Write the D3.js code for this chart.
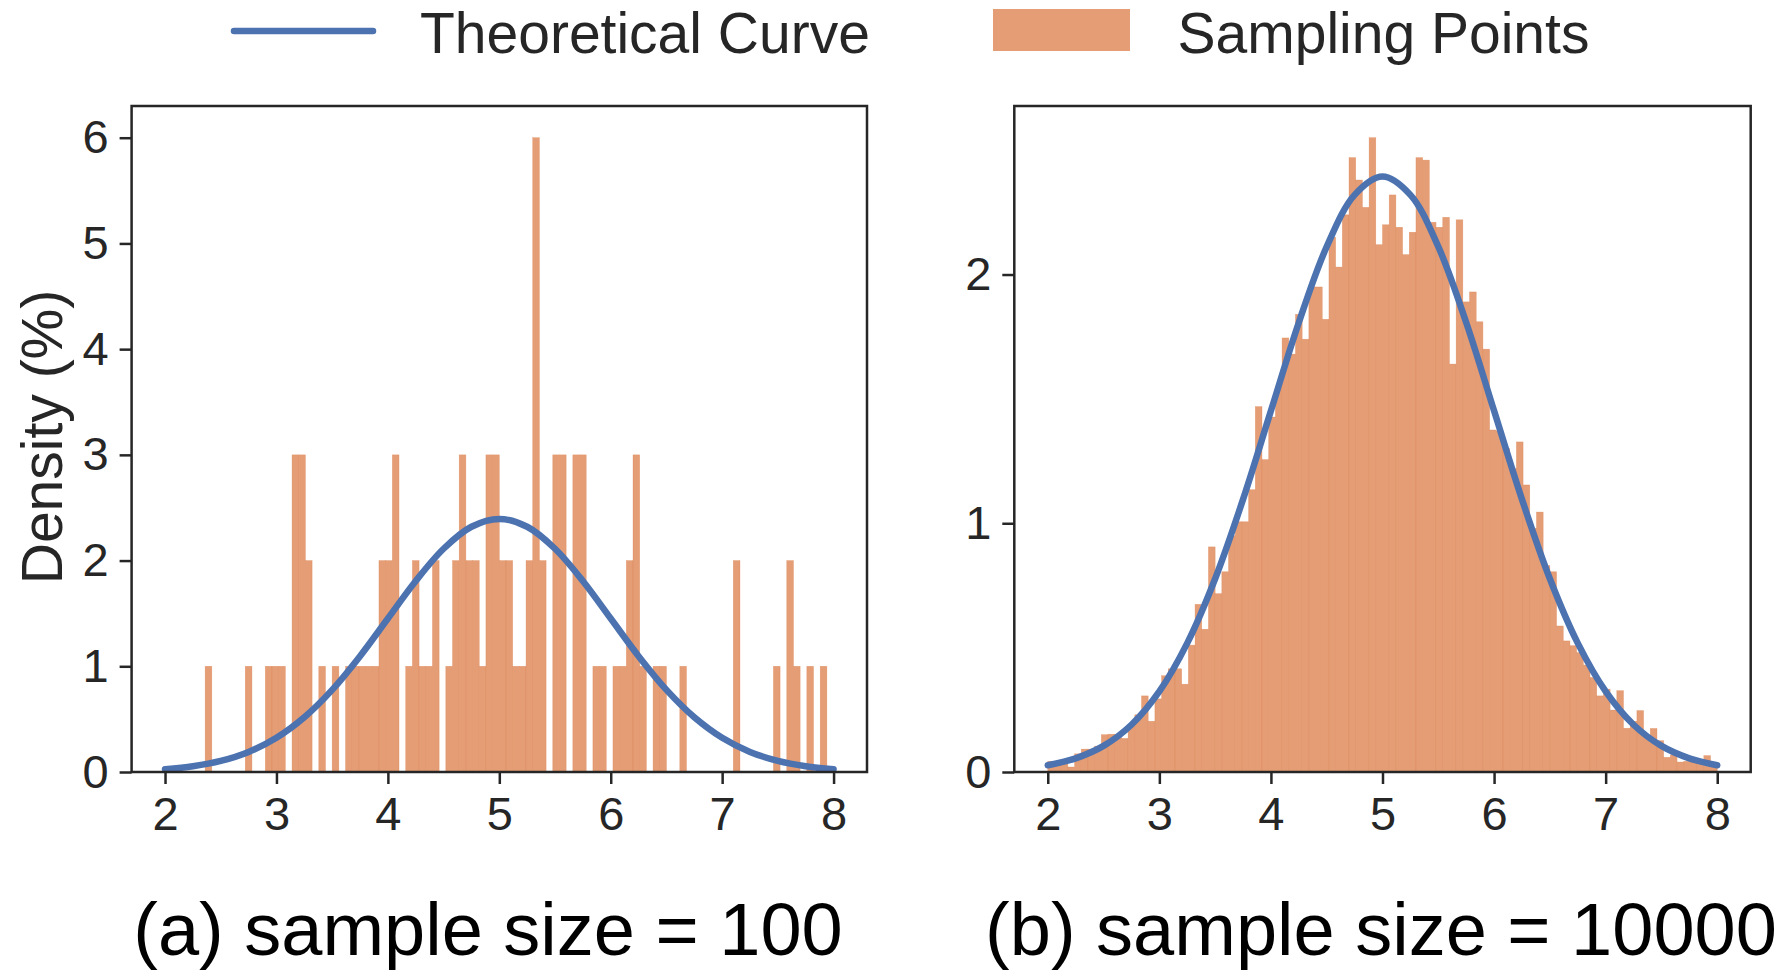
<!DOCTYPE html>
<html>
<head>
<meta charset="utf-8">
<script src="https://cdn.jsdelivr.net/npm/d3@7"></script>
<style>
  html, body { margin: 0; padding: 0; background: #ffffff; }
  svg { display: block; }
</style>
</head>
<body>
<svg id="fig" width="1789" height="971"></svg>
<script>
// ---- data ---------------------------------------------------------------
// Histogram bins: 100 equal bins spanning [2, 8]
const binRange = [2, 8];
const binCount = 100;

// (a) 100 samples: share of samples per bin, in %
const densityA = [
  0, 0, 0, 0, 0, 0, 1, 0, 0, 0,
  0, 0, 1, 0, 0, 1, 1, 1, 0, 3,
  3, 2, 0, 1, 0, 1, 0, 1, 1, 1,
  1, 1, 2, 2, 3, 0, 1, 2, 1, 1,
  2, 0, 1, 2, 3, 2, 2, 1, 3, 3,
  2, 2, 1, 1, 2, 6, 2, 0, 3, 3,
  0, 3, 3, 0, 1, 1, 0, 1, 1, 2,
  3, 1, 0, 1, 1, 0, 0, 1, 0, 0,
  0, 0, 0, 0, 0, 2, 0, 0, 0, 0,
  0, 1, 0, 2, 1, 0, 1, 0, 1, 0
];

// (b) 10000 samples: share of samples per bin, in %
const densityB = [
  0.043, 0.043, 0.035, 0.020, 0.073, 0.092, 0.092, 0.104, 0.150, 0.152,
  0.152, 0.135, 0.190, 0.230, 0.306, 0.204, 0.294, 0.387, 0.415, 0.415,
  0.353, 0.510, 0.674, 0.574, 0.905, 0.717, 0.805, 0.950, 1.006, 1.006,
  1.135, 1.469, 1.256, 1.427, 1.550, 1.745, 1.680, 1.840, 1.740, 1.950,
  1.950, 1.820, 2.150, 2.030, 2.240, 2.470, 2.380, 2.270, 2.550, 2.120,
  2.200, 2.320, 2.190, 2.080, 2.170, 2.470, 2.460, 2.210, 2.190, 2.230,
  1.640, 2.220, 1.890, 1.930, 1.810, 1.700, 1.375, 1.370, 1.300, 1.220,
  1.327, 1.154, 0.980, 1.045, 0.830, 0.805, 0.587, 0.527, 0.508, 0.480,
  0.430, 0.380, 0.306, 0.333, 0.249, 0.327, 0.176, 0.204, 0.247, 0.147,
  0.175, 0.126, 0.059, 0.069, 0.040, 0.043, 0.040, 0.035, 0.066, 0.026
];

// Theoretical curve (expected % per bin), sampled every 0.25
const curveX = [2, 2.25, 2.5, 2.75, 3, 3.25, 3.5, 3.75, 4, 4.25, 4.5, 4.75, 5,
                5.25, 5.5, 5.75, 6, 6.25, 6.5, 6.75, 7, 7.25, 7.5, 7.75, 8];
const curveY = [0.027, 0.055, 0.105, 0.190, 0.324, 0.518, 0.777, 1.096, 1.452,
                1.807, 2.112, 2.320, 2.394, 2.320, 2.112, 1.807, 1.452, 1.096,
                0.777, 0.518, 0.324, 0.190, 0.105, 0.055, 0.027];

const xTicks = [2, 3, 4, 5, 6, 7, 8];
const yTicksA = [0, 1, 2, 3, 4, 5, 6];
const yTicksB = [0, 1, 2];
const titles = ["(a) sample size = 100", "(b) sample size = 10000"];
const legendLabels = ["Theoretical Curve", "Sampling Points"];
const yLabel = "Density (%)";

// ---- style --------------------------------------------------------------
const FONT = '"Liberation Sans", Arial, Helvetica, sans-serif';
const INK = "#262626";
const BLUE = "#4c72b0";
const BAR_FILL = "#e49d75";
const BAR_EDGE = "#dd8452";

const svg = d3.select("#fig");

const plotTop = 106, plotBottom = 772;
const panels = [
  { left: 131.6, right: 867.0, values: densityA, yTicks: yTicksA, title: titles[0], titleX: 488 },
  { left: 1014.3, right: 1750.7, values: densityB, yTicks: yTicksB, title: titles[1], titleX: 1381 }
];

const binWidth = (binRange[1] - binRange[0]) / binCount;
const xPad = 0.05 * (binRange[1] - binRange[0]);

panels.forEach(p => {
  const x = d3.scaleLinear()
    .domain([binRange[0] - xPad, binRange[1] + xPad])
    .range([p.left, p.right]);
  const y = d3.scaleLinear()
    .domain([0, d3.max(p.values) * 1.05])
    .range([plotBottom, plotTop]);

  const g = svg.append("g");

  // histogram bars
  const bins = p.values.map((v, i) => ({
    x0: binRange[0] + i * binWidth,
    x1: binRange[0] + (i + 1) * binWidth,
    v
  })).filter(d => d.v > 0);

  g.append("g").selectAll("rect")
    .data(bins)
    .join("rect")
    .attr("x", d => x(d.x0))
    .attr("width", d => x(d.x1) - x(d.x0))
    .attr("y", d => y(d.v))
    .attr("height", d => y(0) - y(d.v))
    .attr("fill", BAR_FILL)
    .attr("stroke", BAR_EDGE)
    .attr("stroke-width", 0.5)
    .attr("stroke-opacity", 0.6);

  // theoretical curve
  const line = d3.line()
    .x(d => x(d[0]))
    .y(d => y(d[1]))
    .curve(d3.curveCatmullRom);

  g.append("path")
    .datum(d3.zip(curveX, curveY))
    .attr("d", line)
    .attr("fill", "none")
    .attr("stroke", BLUE)
    .attr("stroke-width", 6.5)
    .attr("stroke-linecap", "round")
    .attr("stroke-linejoin", "round");

  // axes
  const gx = g.append("g")
    .attr("transform", `translate(0,${plotBottom})`)
    .call(d3.axisBottom(x).tickValues(xTicks).tickFormat(d3.format("d"))
      .tickSize(12).tickPadding(13).tickSizeOuter(0));
  const gy = g.append("g")
    .attr("transform", `translate(${p.left},0)`)
    .call(d3.axisLeft(y).tickValues(p.yTicks).tickFormat(d3.format("d"))
      .tickSize(12).tickPadding(11).tickSizeOuter(0));

  [gx, gy].forEach(ax => {
    ax.select(".domain").remove();
    ax.attr("font-family", FONT).attr("font-size", 47);
    ax.selectAll(".tick line").attr("stroke", INK).attr("stroke-width", 2.5);
    ax.selectAll(".tick text").attr("fill", INK);
  });

  // frame
  g.append("rect")
    .attr("x", p.left)
    .attr("y", plotTop)
    .attr("width", p.right - p.left)
    .attr("height", plotBottom - plotTop)
    .attr("fill", "none")
    .attr("stroke", INK)
    .attr("stroke-width", 2.5);

  // sub-caption
  svg.append("text")
    .attr("x", p.titleX)
    .attr("y", 955)
    .attr("text-anchor", "middle")
    .attr("font-family", FONT)
    .attr("font-size", 74)
    .attr("fill", "#000")
    .text(p.title);
});

// y-axis label
svg.append("text")
  .attr("transform", "translate(62,437) rotate(-90)")
  .attr("text-anchor", "middle")
  .attr("font-family", FONT)
  .attr("font-size", 57)
  .attr("fill", INK)
  .text(yLabel);

// legend
const legend = svg.append("g").attr("font-family", FONT).attr("font-size", 57).attr("fill", INK);
legend.append("line")
  .attr("x1", 234).attr("x2", 373).attr("y1", 31).attr("y2", 31)
  .attr("stroke", BLUE).attr("stroke-width", 6.5).attr("stroke-linecap", "round");
legend.append("text").attr("x", 420).attr("y", 52.5).text(legendLabels[0]);
legend.append("rect")
  .attr("x", 993).attr("y", 9).attr("width", 137).attr("height", 42)
  .attr("fill", BAR_FILL);
legend.append("text").attr("x", 1177.5).attr("y", 52.5).text(legendLabels[1]);
</script>
</body>
</html>
